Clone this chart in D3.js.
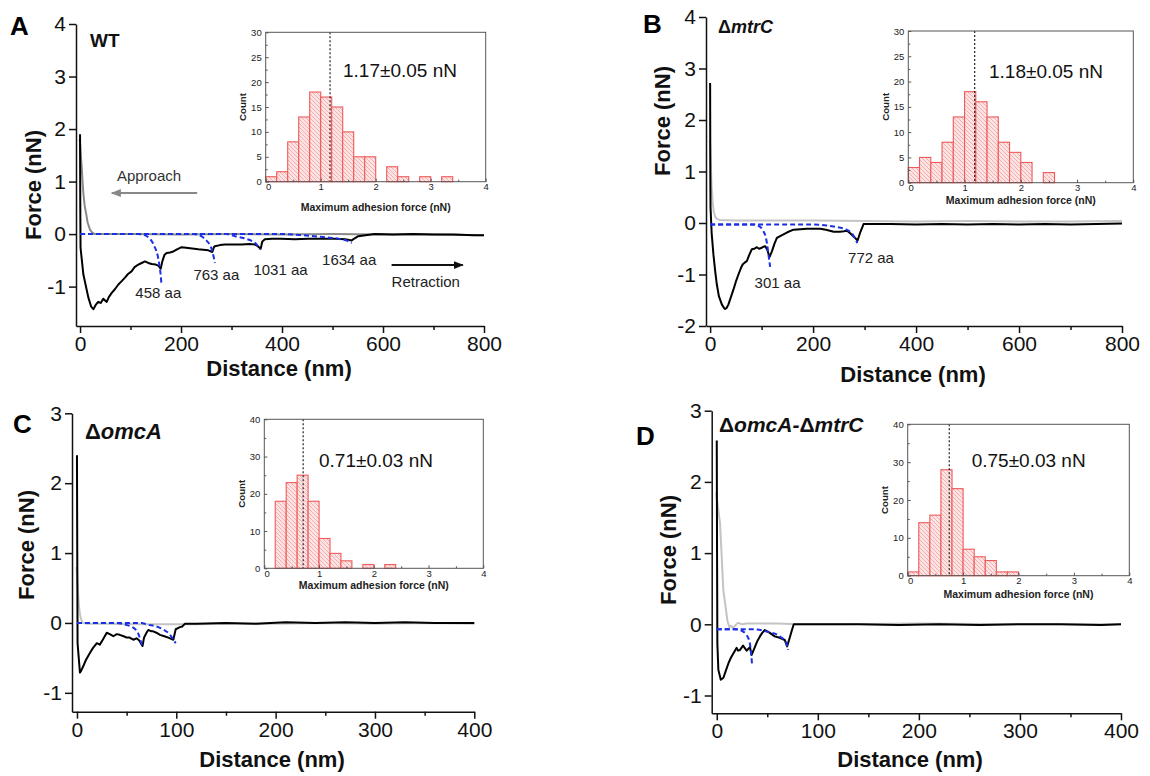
<!DOCTYPE html>
<html>
<head>
<meta charset="utf-8">
<script src="https://cdn.jsdelivr.net/npm/d3@7"></script>
<style>
  body { margin: 0; background: #fff; }
  svg { display: block; font-family: "Liberation Sans", Arial, sans-serif; }
</style>
</head>
<body>
<svg id="fig" width="1150" height="776"></svg>
<script>
// ---------- data ----------
// force curves: [distance (nm), force (nN)]
const approachA = [[-1,1.8],[0,1.75],[2,1.45],[3.3,1.28],[5,1.0],[6.6,0.78],[9,0.55],[11.9,0.4],[15,0.22],[19.8,0.08],[25,0.02],[30,0],[100,0],[200,-0.01],[300,0],[400,-0.01],[500,0],[600,-0.01],[700,-0.01],[800,-0.02]];
const retractA = [[0,1.9],[0.5,0.5],[1,-0.26],[6.6,-0.77],[16.5,-1.21],[22,-1.38],[26.4,-1.43],[31,-1.35],[36,-1.29],[41,-1.31],[46,-1.23],[50,-1.27],[52.8,-1.29],[57,-1.2],[62.7,-1.12],[69,-1.05],[75.9,-0.96],[82,-0.9],[89,-0.83],[95,-0.76],[102,-0.71],[108,-0.63],[115.5,-0.58],[122,-0.55],[128.7,-0.52],[135,-0.55],[142,-0.57],[150,-0.58],[155,-0.6],[159.7,-0.66],[163,-0.52],[167,-0.4],[171.6,-0.36],[178,-0.35],[184.8,-0.33],[192,-0.29],[201,-0.25],[210,-0.26],[218,-0.27],[226,-0.28],[234,-0.29],[244,-0.3],[254,-0.31],[262,-0.34],[265,-0.25],[267,-0.23],[277,-0.21],[287,-0.2],[300,-0.2],[320,-0.2],[335,-0.19],[346.5,-0.2],[352,-0.23],[357.7,-0.28],[361,-0.14],[366,-0.1],[380,-0.09],[399,-0.09],[425,-0.1],[452,-0.09],[480,-0.09],[505,-0.09],[525,-0.1],[538,-0.12],[544,-0.08],[551,-0.04],[565,-0.02],[584,0],[620,-0.01],[660,0],[700,-0.01],[740,-0.01],[780,-0.02],[800,-0.02]];
const fitsA = [
  [[0,0],[115,0],[128,-0.02],[136,-0.07],[143,-0.15],[149,-0.27],[154,-0.42],[157,-0.58],[159.5,-0.76],[161,-0.93]],
  [[0,0],[225,0],[240,-0.04],[251,-0.13],[258,-0.22],[262,-0.33],[265,-0.45],[267,-0.55]],
  [[0,0],[290,0],[307,-0.04],[325,-0.08],[340,-0.13],[348,-0.18],[353,-0.24],[356,-0.29]],
  [[0,0],[400,0],[440,-0.02],[485,-0.06],[518,-0.1],[530,-0.13],[538,-0.17]]
];
const fitLabelsA = ["458 aa", "763 aa", "1031 aa", "1634 aa"];

const approachB = [[-1,1.6],[0,1.55],[1.5,1.1],[3,0.7],[5,0.4],[7,0.22],[10,0.12],[13,0.08],[18,0.06],[50,0.05],[100,0.05],[200,0.05],[300,0.04],[400,0.03],[500,0.04],[600,0.03],[700,0.03],[800,0.04]];
const retractB = [[0,2.72],[0.4,1.0],[0.8,0.3],[3,-0.2],[6.5,-0.62],[10,-0.95],[13,-1.19],[17,-1.42],[22.7,-1.58],[27,-1.65],[29,-1.67],[32,-1.65],[35.6,-1.58],[40,-1.45],[45.4,-1.29],[50,-1.14],[55,-1.0],[60,-0.87],[63.5,-0.8],[67,-0.77],[71.3,-0.74],[76,-0.62],[81,-0.51],[86,-0.5],[90.7,-0.47],[95,-0.5],[100.5,-0.48],[104,-0.46],[107,-0.45],[111,-0.52],[115.3,-0.66],[118,-0.6],[120,-0.55],[125,-0.4],[129.7,-0.29],[135,-0.26],[142.5,-0.22],[150,-0.18],[162,-0.13],[175,-0.12],[188,-0.11],[200,-0.11],[214,-0.11],[225,-0.13],[240,-0.17],[252,-0.17],[260,-0.16],[266,-0.15],[272,-0.2],[278.6,-0.26],[286.4,-0.34],[292,-0.17],[298,-0.02],[310,-0.02],[350,-0.02],[400,-0.03],[450,-0.02],[500,-0.03],[550,-0.02],[600,-0.03],[650,-0.02],[700,-0.03],[750,-0.02],[800,-0.01]];
const fitsB = [
  [[0,-0.03],[85,-0.03],[95,-0.06],[103.6,-0.16],[108,-0.27],[110.5,-0.4],[113.4,-0.62],[116.6,-0.85]],
  [[0,-0.03],[200,-0.03],[240,-0.07],[265,-0.13],[278,-0.24],[286,-0.39]]
];
const fitLabelsB = ["301 aa", "772 aa"];

const approachC = [[-0.5,0.8],[0,0.72],[1,0.45],[2,0.25],[3,0.12],[4.5,0.04],[6,0],[10,-0.01],[30,-0.01],[60,-0.02],[90,-0.02],[120,-0.02],[150,-0.01],[200,-0.01],[250,0],[300,-0.01],[350,0],[400,-0.01]];
const retractC = [[0,2.4],[0.3,1.0],[0.6,-0.29],[3,-0.71],[4,-0.69],[6.3,-0.62],[9,-0.53],[13,-0.43],[16,-0.36],[20,-0.29],[23,-0.31],[26,-0.24],[30,-0.14],[33,-0.16],[36.6,-0.19],[40,-0.16],[43,-0.17],[47,-0.19],[50,-0.21],[53,-0.21],[56.7,-0.24],[60,-0.22],[62.7,-0.25],[66,-0.33],[67.5,-0.21],[70,-0.14],[71.8,-0.1],[75,-0.12],[76.8,-0.12],[80,-0.14],[83.6,-0.17],[88,-0.19],[92,-0.21],[97,-0.24],[99.4,-0.09],[103.7,-0.06],[106,-0.05],[108.8,-0.01],[120,-0.01],[150,0],[180,-0.01],[210,0.01],[240,0],[270,0.01],[300,0],[330,0.01],[360,0],[400,0]];
const fitsC = [
  [[0,0],[40,0],[47,-0.02],[57,-0.07],[62.7,-0.19],[66,-0.36]],
  [[0,0],[65,0],[70,-0.02],[83.6,-0.07],[93.7,-0.17],[99.4,-0.29]]
];

const approachD = [[-0.5,1.85],[0,1.78],[1.6,1.6],[3.3,1.41],[4.9,0.95],[6.5,0.48],[9.2,0.2],[10.5,0.05],[12.5,-0.04],[14,-0.02],[16,-0.05],[18,-0.02],[21,0.02],[25,0],[30,0.01],[40,0.01],[60,0.01],[80,0],[120,0],[200,0.01],[300,0],[400,0]];
const retractD = [[0,2.58],[0.3,1.0],[0.6,-0.27],[1.6,-0.64],[4,-0.78],[6.6,-0.75],[9,-0.65],[11.5,-0.55],[14,-0.47],[16.4,-0.41],[19.7,-0.33],[21,-0.37],[23,-0.36],[26,-0.3],[29.6,-0.37],[32.8,-0.32],[34.5,-0.43],[37.7,-0.32],[40,-0.24],[42.7,-0.17],[45,-0.12],[47.6,-0.08],[52.5,-0.12],[57.4,-0.17],[62.3,-0.19],[67.3,-0.22],[69.6,-0.31],[72.2,-0.19],[74,-0.1],[76.2,0],[100,0],[140,0],[180,-0.01],[220,0],[260,-0.01],[300,0],[340,0],[380,-0.01],[400,0]];
const fitsD = [
  [[0,-0.07],[18,-0.07],[23,-0.08],[29.5,-0.15],[32.8,-0.27],[35,-0.57]],
  [[0,-0.07],[35,-0.07],[49.3,-0.1],[62.4,-0.17],[69,-0.27],[70.5,-0.36]]
];

// histograms of maximum adhesion force, bins of 0.2 nN
const binLefts = [0,0.2,0.4,0.6,0.8,1.0,1.2,1.4,1.6,1.8,2.0,2.2,2.4,2.6,2.8,3.0,3.2];
const histA = [1,2,8,13,18,17,15,10,5,5,0,3,1,0,1,0,1];
const histB = [3,5,4,8,13,18,16,13,8,6,4,0,2,0,0,0,0];
const histC = [0,18,23,25,18,8,4,2,0,1,0,1,0,0,0,0,0];
const histD = [1,14,16,28,23,7,5,4,1,1,0,0,0,0,0,0,0];
const meanForce = [1.17, 1.18, 0.71, 0.75];
const meanError = ["0.05", "0.05", "0.03", "0.03"];

const panelLetters = ["A", "B", "C", "D"];
const strains = [["", "WT"], ["Δ", "mtrC"], ["Δ", "omcA"], ["Δ", "omcA-", "Δ", "mtrC"]];

// ---------- layout ----------
const panels = [
  { letter: [10, 35], strain: [90, 47, 19],
    xDom: [-8, 800], xRange: [76, 484], yDom: [-1.75, 4], yRange: [326, 24],
    xTicks: [0, 200, 400, 600, 800], xMinor: [100, 300, 500, 700], yTicks: [-1, 0, 1, 2, 3, 4],
    xTitle: [279, 376], yTitle: [33, 185], approachColor: "#8a8a8a",
    approach: approachA, retract: retractA, fits: fitsA,
    fitLabels: fitLabelsA, fitLabelPos: [[155, -1.22], [270, -0.876], [397, -0.78], [533, -0.59]],
    arrows: true,
    inset: { x0: 265.7, x1: 485.7, y0: 32.3, y1: 181.7, yMax: 30, yStep: 5, labelY: 211, meanPos: [343, 77] },
    hist: histA },
  { letter: [643, 33], strain: [718, 33, 18],
    xDom: [-8, 800], xRange: [706, 1122], yDom: [-2, 4], yRange: [326, 17],
    xTicks: [0, 200, 400, 600, 800], xMinor: [100, 300, 500, 700], yTicks: [-2, -1, 0, 1, 2, 3, 4],
    xTitle: [913, 382], yTitle: [662, 121], approachColor: "#c4c4c4",
    approach: approachB, retract: retractB, fits: fitsB,
    fitLabels: fitLabelsB, fitLabelPos: [[131, -1.27], [312.5, -0.78]],
    inset: { x0: 908.3, x1: 1133.3, y0: 31, y1: 182.7, yMax: 30, yStep: 5, labelY: 204, meanPos: [989, 77.7] },
    hist: histB },
  { letter: [13, 433], strain: [85, 439, 22],
    xDom: [-5, 400], xRange: [72, 474.3], yDom: [-1.27, 3], yRange: [711.7, 413.3],
    xTicks: [0, 100, 200, 300, 400], xMinor: [50, 150, 250, 350], yTicks: [-1, 0, 1, 2, 3],
    xTitle: [272, 767], yTitle: [26, 545], approachColor: "#c4c4c4",
    approach: approachC, retract: retractC, fits: fitsC,
    fitLabels: [], fitLabelPos: [],
    inset: { x0: 264.3, x1: 483.3, y0: 419.3, y1: 568.3, yMax: 40, yStep: 10, labelY: 589, meanPos: [319, 467] },
    hist: histC },
  { letter: [636, 445], strain: [719, 432, 21],
    xDom: [-5, 400], xRange: [711.7, 1121], yDom: [-1.25, 3], yRange: [713.3, 410.7],
    xTicks: [0, 100, 200, 300, 400], xMinor: [50, 150, 250, 350], yTicks: [-1, 0, 1, 2, 3],
    xTitle: [910, 767], yTitle: [668, 550], approachColor: "#c4c4c4",
    approach: approachD, retract: retractD, fits: fitsD,
    fitLabels: [], fitLabelPos: [],
    inset: { x0: 907.7, x1: 1129.3, y0: 424.3, y1: 575.7, yMax: 40, yStep: 10, labelY: 598, meanPos: [971.7, 467] },
    hist: histD }
];

const svg = d3.select("#fig");
const defs = svg.append("defs");

// hatched pink fill for the histogram bars
const hatch = defs.append("pattern")
  .attr("id", "hatch")
  .attr("patternUnits", "userSpaceOnUse")
  .attr("width", 4).attr("height", 4);
hatch.append("rect").attr("width", 4).attr("height", 4).attr("fill", "#fde4e4");
hatch.append("path")
  .attr("d", "M-1,-1 L5,5 M-1,3 L1,5 M3,-1 L5,1")
  .attr("stroke", "#f2a0a0").attr("stroke-width", 0.8);

function arrowMarker(id, color) {
  defs.append("marker")
    .attr("id", id)
    .attr("viewBox", "0 0 10 10")
    .attr("refX", 9).attr("refY", 5)
    .attr("markerWidth", 5).attr("markerHeight", 5)
    .attr("orient", "auto")
    .append("path").attr("d", "M0,1 L10,5 L0,9 Z").attr("fill", color);
}
arrowMarker("arrGray", "#888");
arrowMarker("arrBlack", "#111");

panels.forEach((p, i) => drawPanel(p, i));

function drawPanel(p, i) {
  const g = svg.append("g");
  const x = d3.scaleLinear().domain(p.xDom).range(p.xRange);
  const y = d3.scaleLinear().domain(p.yDom).range(p.yRange);

  // ---- main axes ----
  const xAxis = g.append("g")
    .attr("transform", `translate(0,${p.yRange[0]})`)
    .call(d3.axisBottom(x).tickValues(p.xTicks).tickSize(7).tickSizeOuter(0).tickPadding(3).tickFormat(d => String(d)));
  g.append("g")
    .attr("transform", `translate(0,${p.yRange[0]})`)
    .call(d3.axisBottom(x).tickValues(p.xMinor).tickSize(4).tickFormat(""))
    .call(s => s.select(".domain").remove());
  const yAxis = g.append("g")
    .attr("transform", `translate(${p.xRange[0]},0)`)
    .call(d3.axisLeft(y).tickValues(p.yTicks).tickSize(7).tickSizeOuter(0).tickPadding(3).tickFormat(d => String(d)));

  [xAxis, yAxis].forEach(a => {
    a.selectAll("text").attr("font-size", 21).attr("fill", "#111").attr("font-family", null);
  });
  g.selectAll(".domain, .tick line").attr("stroke", "#111").attr("stroke-width", 1.5);

  g.append("text")
    .attr("x", p.xTitle[0]).attr("y", p.xTitle[1])
    .attr("text-anchor", "middle")
    .attr("font-size", 22).attr("font-weight", "bold").attr("fill", "#111")
    .text("Distance (nm)");
  g.append("text")
    .attr("transform", `translate(${p.yTitle[0]},${p.yTitle[1]}) rotate(-90)`)
    .attr("text-anchor", "middle").attr("dominant-baseline", "central")
    .attr("font-size", 22).attr("font-weight", "bold").attr("fill", "#111")
    .text("Force (nN)");

  // ---- curves ----
  const line = d3.line().x(d => x(d[0])).y(d => y(d[1]));
  const smooth = d3.line().curve(d3.curveMonotoneX).x(d => x(d[0])).y(d => y(d[1]));

  g.append("path").datum(p.approach)
    .attr("d", line).attr("fill", "none")
    .attr("stroke", p.approachColor).attr("stroke-width", 2).attr("stroke-linejoin", "round");
  g.append("path").datum(p.retract)
    .attr("d", line).attr("fill", "none")
    .attr("stroke", "#000").attr("stroke-width", 2).attr("stroke-linejoin", "round");
  g.selectAll(".fit").data(p.fits).enter().append("path")
    .attr("class", "fit")
    .attr("d", smooth).attr("fill", "none")
    .attr("stroke", "#1a2fe6").attr("stroke-width", 2)
    .attr("stroke-dasharray", "5,3");

  g.selectAll(".fitlab").data(p.fitLabels).enter().append("text")
    .attr("class", "fitlab")
    .attr("x", (d, k) => x(p.fitLabelPos[k][0]))
    .attr("y", (d, k) => y(p.fitLabelPos[k][1]))
    .attr("text-anchor", "middle")
    .attr("font-size", 15).attr("fill", "#222")
    .text(d => d);

  if (p.arrows) {
    g.append("text").attr("x", x(73)).attr("y", y(1.01))
      .attr("font-size", 15).attr("fill", "#333").text("Approach");
    g.append("line")
      .attr("x1", x(232)).attr("x2", x(63)).attr("y1", y(0.78)).attr("y2", y(0.78))
      .attr("stroke", "#888").attr("stroke-width", 2).attr("marker-end", "url(#arrGray)");
    g.append("text").attr("x", x(617)).attr("y", y(-1.01))
      .attr("font-size", 15).attr("fill", "#222").text("Retraction");
    g.append("line")
      .attr("x1", x(617)).attr("x2", x(758)).attr("y1", y(-0.59)).attr("y2", y(-0.59))
      .attr("stroke", "#111").attr("stroke-width", 2).attr("marker-end", "url(#arrBlack)");
  }

  // ---- labels ----
  svg.append("text")
    .attr("x", p.letter[0]).attr("y", p.letter[1])
    .attr("font-size", 26).attr("font-weight", "bold").attr("fill", "#000")
    .text(panelLetters[i]);

  const st = svg.append("text")
    .attr("x", p.strain[0]).attr("y", p.strain[1])
    .attr("font-size", p.strain[2]).attr("font-weight", "bold").attr("fill", "#111");
  strains[i].forEach(part => {
    st.append("tspan")
      .attr("font-style", (part === "Δ" || part === "WT") ? "normal" : "italic")
      .text(part);
  });

  drawInset(p, i);
}

function drawInset(p, i) {
  const b = p.inset;
  const g = svg.append("g");
  const x = d3.scaleLinear().domain([0, 4]).range([b.x0, b.x1]);
  const y = d3.scaleLinear().domain([0, b.yMax]).range([b.y1, b.y0]);

  const bins = binLefts.map((l, k) => ({ left: l, count: p.hist[k] })).filter(d => d.count > 0);
  g.selectAll("rect.bar").data(bins).enter().append("rect")
    .attr("class", "bar")
    .attr("x", d => x(d.left))
    .attr("width", d => x(d.left + 0.2) - x(d.left))
    .attr("y", d => y(d.count))
    .attr("height", d => y(0) - y(d.count))
    .attr("fill", "url(#hatch)")
    .attr("stroke", "#ee5a5a").attr("stroke-width", 1.1);

  // mean line
  g.append("line")
    .attr("x1", x(meanForce[i])).attr("x2", x(meanForce[i]))
    .attr("y1", b.y0).attr("y2", b.y1)
    .attr("stroke", "#222").attr("stroke-width", 1.2).attr("stroke-dasharray", "2,2");

  // frame
  g.append("rect")
    .attr("x", b.x0).attr("y", b.y0)
    .attr("width", b.x1 - b.x0).attr("height", b.y1 - b.y0)
    .attr("fill", "none").attr("stroke", "#555").attr("stroke-width", 1);

  const yTicks = d3.range(0, b.yMax + 0.1, b.yStep);
  const yMinor = d3.range(b.yStep / 2, b.yMax, b.yStep);
  const ya = g.append("g").attr("transform", `translate(${b.x0},0)`)
    .call(d3.axisLeft(y).tickValues(yTicks).tickSize(-3).tickPadding(4).tickFormat(d3.format("d")));
  g.append("g").attr("transform", `translate(${b.x0},0)`)
    .call(d3.axisLeft(y).tickValues(yMinor).tickSize(-2).tickFormat(""));
  const xa = g.append("g").attr("transform", `translate(0,${b.y1})`)
    .call(d3.axisBottom(x).tickValues([0, 1, 2, 3, 4]).tickSize(-3).tickPadding(2).tickFormat(d3.format("d")));
  g.append("g").attr("transform", `translate(0,${b.y1})`)
    .call(d3.axisBottom(x).tickValues([0.5, 1.5, 2.5, 3.5]).tickSize(-2).tickFormat(""));
  g.selectAll(".domain").remove();
  g.selectAll(".tick line").attr("stroke", "#555");
  [ya, xa].forEach(a => a.selectAll("text").attr("font-size", 9.5).attr("fill", "#222").attr("font-family", null));
  // keep the two corner zeros apart
  xa.selectAll(".tick text").filter(d => d === 0).attr("dx", "0.25em");

  g.append("text")
    .attr("x", (b.x0 + b.x1) / 2).attr("y", b.labelY)
    .attr("text-anchor", "middle")
    .attr("font-size", 10.5).attr("font-weight", "bold").attr("fill", "#222")
    .text("Maximum adhesion force (nN)");
  g.append("text")
    .attr("transform", `translate(${b.x0 - 23},${(b.y0 + b.y1) / 2}) rotate(-90)`)
    .attr("text-anchor", "middle").attr("dominant-baseline", "central")
    .attr("font-size", 9.7).attr("font-weight", "bold").attr("fill", "#222")
    .text("Count");

  g.append("text")
    .attr("x", b.meanPos[0]).attr("y", b.meanPos[1])
    .attr("font-size", 19).attr("fill", "#111")
    .text(`${meanForce[i].toFixed(2)}±${meanError[i]} nN`);
}
</script>
</body>
</html>
